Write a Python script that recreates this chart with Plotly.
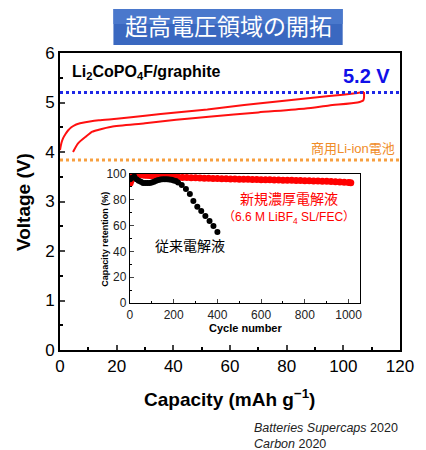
import plotly.graph_objects as go

# ---- data ----
charge_cap = [0, 0.5, 1.1, 2, 2.9, 4, 5.1, 6.5, 8, 10, 13.7, 20, 30, 41, 52, 65, 75, 85, 95, 105, 107.3]
charge_v = [4.04, 4.18, 4.28, 4.37, 4.44, 4.50, 4.54, 4.57, 4.59, 4.61, 4.64, 4.67, 4.73, 4.80, 4.86, 4.95, 5.01, 5.07, 5.13, 5.19, 5.21]
discharge_cap = [107.3, 107.3, 107, 105, 95, 86.7, 70, 52.5, 41, 30, 18.2, 13.7, 11.4, 9.1, 6.3, 4.6]
discharge_v = [5.21, 5.10, 5.04, 5.00, 4.94, 4.88, 4.80, 4.71, 4.65, 4.58, 4.51, 4.45, 4.41, 4.31, 4.17, 4.00]

conv_cycles = [1, 10, 20, 30, 40, 50, 60, 70, 80, 90, 100, 110, 120, 130, 140, 150, 160, 170, 180, 190,
               200, 210, 220, 237, 256, 274, 290, 308, 326, 345, 364, 382, 400]
conv_ret = [96, 97, 98, 96, 94.8, 94, 93, 93, 93, 93, 93.5, 94, 94.7, 95.3, 95.8, 96, 96, 96, 95.8, 95.5,
            95, 94.5, 93.5, 91.4, 88.3, 84.4, 79, 74.7, 71.3, 67.4, 63.5, 59.6, 55]

new_cycles = [1, 5, 10, 20, 30, 40, 50, 60, 70, 80, 90, 100, 110, 120, 130, 140, 150, 160, 170, 180, 190, 200,
              220, 240, 260, 280, 300, 320, 340, 360, 380, 400, 420, 440, 460, 480, 500, 520, 540, 560, 580,
              600, 620, 640, 660, 680, 700, 720, 740, 760, 780, 800, 820, 840, 860, 880, 900, 920, 940, 960,
              980, 1000, 1010]
new_ret = [93, 95, 98.5, 99.8, 99.7, 99.5, 99.4, 99.2, 99.1, 99, 98.9, 98.7, 98.6, 98.5, 98.4, 98.3, 98.2, 98.1,
           98, 97.9, 97.8, 97.7, 97.5, 97.3, 97.2, 97.1, 97, 96.9, 96.8, 96.7, 96.6, 96.5, 96.4, 96.3, 96.2,
           96.1, 96, 95.9, 95.9, 95.8, 95.7, 95.6, 95.5, 95.5, 95.4, 95.3, 95.2, 95.2, 95.1, 95, 94.9, 94.8,
           94.7, 94.6, 94.5, 94.4, 94.3, 94.1, 94, 93.8, 93.6, 93.4, 93.3]

high_v = 5.2
li_ion_v = 3.84

# ---- layout helpers (pixel -> paper) ----
L, R, T, B = 60, 410, 53, 350
def px(x):
    return (x - L) / (R - L)
def py(y):
    return (B - y) / (B - T)

FONT = "Liberation Sans, Arial, sans-serif"
CJK = "Liberation Sans, Arial, Noto Sans CJK JP, sans-serif"

fig = go.Figure()

fig.add_trace(go.Scatter(x=charge_cap, y=charge_v, mode="lines", line=dict(color="#FF1010", width=2, shape="spline", smoothing=0.6),
                         showlegend=False, xaxis="x", yaxis="y"))
fig.add_trace(go.Scatter(x=discharge_cap, y=discharge_v, mode="lines", line=dict(color="#FF1010", width=2, shape="spline", smoothing=0.6),
                         showlegend=False, xaxis="x", yaxis="y"))

fig.add_trace(go.Scatter(x=new_cycles, y=new_ret, mode="markers", marker=dict(color="#FF0000", size=7),
                         showlegend=False, xaxis="x2", yaxis="y2"))
fig.add_trace(go.Scatter(x=conv_cycles, y=conv_ret, mode="markers", marker=dict(color="#000000", size=6),
                         showlegend=False, xaxis="x2", yaxis="y2"))

shapes = [
    dict(type="line", xref="x", yref="y", x0=0, x1=120, y0=high_v, y1=high_v,
         line=dict(color="#1E28E6", width=3, dash="dot")),
    dict(type="line", xref="x", yref="y", x0=0, x1=120, y0=li_ion_v, y1=li_ion_v,
         line=dict(color="#F7A040", width=3, dash="dot")),
    # title box
    dict(type="rect", xref="paper", yref="paper", x0=px(115), x1=px(351), y0=py(45), y1=py(9),
         fillcolor="#3A68C0", line=dict(width=0), layer="below"),
    dict(type="rect", xref="paper", yref="paper", x0=px(115), x1=px(351), y0=py(24), y1=py(9),
         fillcolor="#4A78CC", line=dict(width=0), layer="below"),
]

ann = []
def A(text, x, y, size, color="black", xanchor="center", family=FONT, angle=0):
    ann.append(dict(text=text, xref="paper", yref="paper", x=px(x), y=py(y), xanchor=xanchor, yanchor="middle",
                    showarrow=False, textangle=angle, font=dict(size=size, color=color, family=family)))

A("超高電圧領域の開拓", 233, 27, 23, "white", family=CJK)
A("<b>Li<sub>2</sub>CoPO<sub>4</sub>F/graphite</b>", 70, 72, 16, xanchor="left")
A("<b>5.2 V</b>", 402, 76, 20, "#1010E8", xanchor="right")
A("商用Li-ion電池", 407, 148, 13, "#F08C28", xanchor="right", family=CJK)
A("新規濃厚電解液", 296, 199, 14, "#FF0000", family=CJK)
A("（6.6 M LiBF<sub>4</sub> SL/FEC）", 296, 218, 12, "#FF0000", family=CJK)
A("従来電解液", 194, 246, 14, "black", family=CJK)
A("<b>Voltage (V)</b>", 22, 202, 19, angle=-90)
A("<b>Capacity (mAh g<sup>−1</sup>)</b>", 234, 398, 19)
A("<b>Capacity retention (%)</b>", 106, 239, 9, angle=-90)
A("<b>Cycle number</b>", 251, 328, 11)
A("<i>Batteries Supercaps</i> 2020", 258, 428, 12.5, "#222222", xanchor="left")
A("<i>Carbon</i> 2020", 258, 444, 12.5, "#222222", xanchor="left")

axis_common = dict(showline=True, linecolor="black", mirror=True, ticks="inside", showgrid=False, zeroline=False)

fig.update_layout(
    width=426, height=450,
    margin=dict(l=L, r=426 - R, t=T, b=450 - B),
    paper_bgcolor="white", plot_bgcolor="white",
    font=dict(family=FONT, color="black"),
    shapes=shapes, annotations=ann,
    xaxis=dict(domain=[0, 1], range=[0, 120], dtick=20, tick0=0, linewidth=2, ticklen=5, tickwidth=1.5,
               minor=dict(ticks="inside", dtick=10, ticklen=3, tickwidth=1.5, tickcolor="black"),
               tickfont=dict(size=17), anchor="y", **axis_common),
    yaxis=dict(domain=[0, 1], range=[0, 6], dtick=1, tick0=0, linewidth=2, ticklen=5, tickwidth=1.5,
               minor=dict(ticks="inside", dtick=0.5, ticklen=3, tickwidth=1.5, tickcolor="black"),
               tickfont=dict(size=17), anchor="x", **axis_common),
    xaxis2=dict(domain=[px(132), px(369)], range=[0, 1053], dtick=200, tick0=0, linewidth=1.2, ticklen=4,
                minor=dict(ticks="inside", dtick=100, ticklen=2, tickcolor="black"),
                tickfont=dict(size=12, color="#222"), anchor="y2", **axis_common),
    yaxis2=dict(domain=[py(303), py(174)], range=[0, 100], dtick=20, tick0=0, linewidth=1.2, ticklen=4,
                minor=dict(ticks="inside", dtick=10, ticklen=2, tickcolor="black"),
                tickfont=dict(size=12, color="#222"), anchor="x2", **axis_common),
)

fig.write_html("out.html", config={"displayModeBar": False},
               post_script="document.body.style.margin='0';")
